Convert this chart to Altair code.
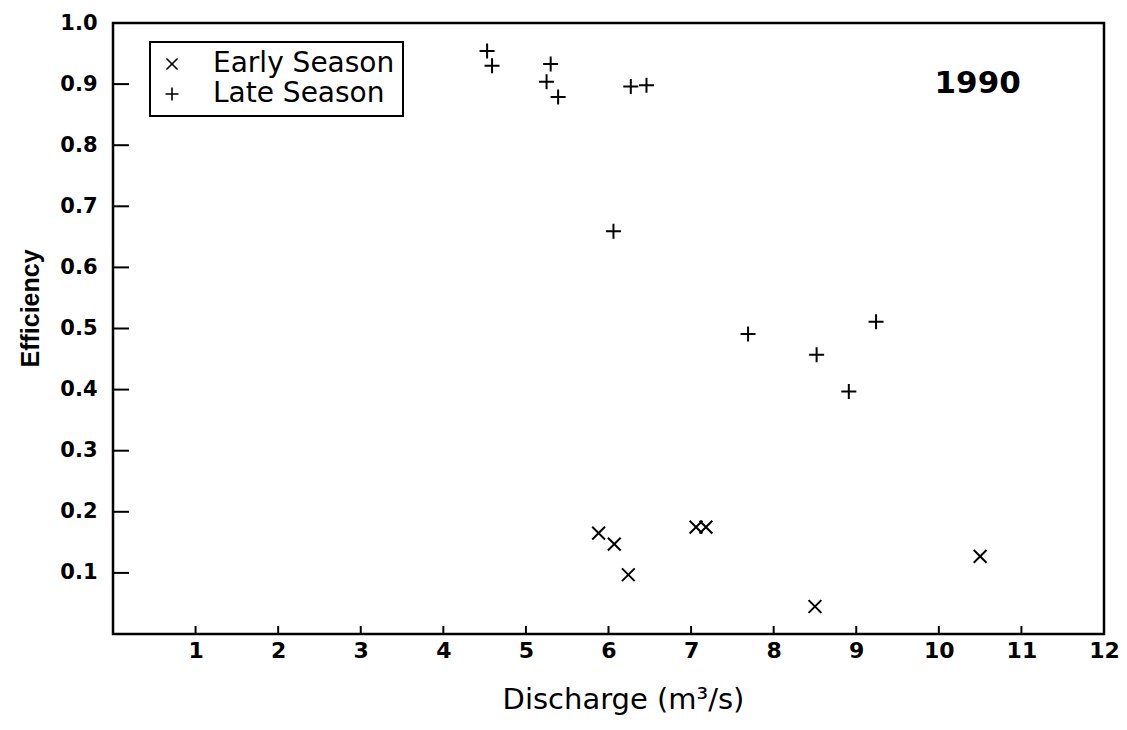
import altair as alt
import pandas as pd

# Data
early_x = [5.88, 6.07, 6.24, 7.06, 7.18, 8.50, 10.50]
early_y = [0.165, 0.147, 0.097, 0.175, 0.175, 0.045, 0.127]
late_x = [4.53, 4.59, 5.30, 5.25, 5.39, 6.27, 6.46, 6.06, 7.69, 9.24, 8.52, 8.91]
late_y = [0.954, 0.930, 0.933, 0.904, 0.879, 0.896, 0.898, 0.659, 0.491, 0.511, 0.457, 0.397]
seasons = ["Early Season", "Late Season"]
x_ticks = [1, 2, 3, 4, 5, 6, 7, 8, 9, 10, 11, 12]
y_ticks = [0.1, 0.2, 0.3, 0.4, 0.5, 0.6, 0.7, 0.8, 0.9, 1.0]
year_label = "1990"

W, H = 991, 611

pts = pd.DataFrame(
    {"x": early_x + late_x,
     "y": early_y + late_y,
     "season": [seasons[0]] * len(early_x) + [seasons[1]] * len(late_x)}
)

X_PATH = "M-0.85,-0.85L0.85,0.85M-0.85,0.85L0.85,-0.85"
PLUS_PATH = "M-1,0L1,0M0,-1L0,1"

xscale = alt.Scale(domain=[0, 12], nice=False, zero=False)
yscale = alt.Scale(domain=[0, 1.0], nice=False, zero=False)

xaxis = alt.Axis(values=x_ticks, format="d", ticks=False, domain=False, grid=False,
                 labelFont="DejaVu Sans", labelFontWeight="bold", labelFontSize=22,
                 labelColor="black", labelPadding=6, labelFlush=False,
                 title="Discharge (m³/s)", titleFont="DejaVu Sans",
                 titleFontWeight="normal", titleFontSize=29, titleColor="black",
                 titlePadding=24, titleX=510)
yaxis = alt.Axis(values=y_ticks, format=".1f", ticks=False, domain=False, grid=False,
                 labelFont="DejaVu Sans", labelFontWeight="bold", labelFontSize=21,
                 labelColor="black", labelPadding=16, labelFlush=False,
                 title="Efficiency", titleFont="Liberation Sans",
                 titleFontWeight="bold", titleFontSize=25, titleColor="black",
                 titlePadding=16, titleY=285)

points = alt.Chart(pts).mark_point(filled=False, strokeWidth=2, size=225, color="black", opacity=1).encode(
    x=alt.X("x:Q", scale=xscale, axis=xaxis),
    y=alt.Y("y:Q", scale=yscale, axis=yaxis),
    shape=alt.Shape("season:N",
                    scale=alt.Scale(domain=seasons, range=[X_PATH, PLUS_PATH]),
                    legend=alt.Legend(title=None, orient="none", legendX=37, legendY=19,
                                      strokeColor="black", fillColor="white",
                                      padding=8, labelFont="DejaVu Sans",
                                      labelFontSize=28, labelColor="black",
                                      labelOffset=27, symbolOffset=0, symbolSize=170,
                                      symbolStrokeWidth=1.6, symbolStrokeColor="black",
                                      symbolFillColor="transparent", rowPadding=2,
                                      labelLimit=400)),
)

ytick_df = pd.DataFrame({"v": y_ticks[:-1]})
xtick_df = pd.DataFrame({"v": x_ticks[:-1]})

ytick_rules = alt.Chart(ytick_df).mark_rule(color="black", strokeWidth=2).encode(
    y=alt.Y("v:Q", scale=yscale), x=alt.value(0), x2=alt.value(16)
)
xtick_rules = alt.Chart(xtick_df).mark_rule(color="black", strokeWidth=2).encode(
    x=alt.X("v:Q", scale=xscale), y=alt.value(H), y2=alt.value(H - 8)
)

label_df = pd.DataFrame({"x": [10.47], "y": [0.90], "t": [year_label]})
year_text = alt.Chart(label_df).mark_text(
    font="DejaVu Sans", fontWeight="bold", fontSize=31, color="black",
    align="center", baseline="middle"
).encode(x=alt.X("x:Q", scale=xscale), y=alt.Y("y:Q", scale=yscale), text="t:N")

chart = alt.layer(ytick_rules, xtick_rules, points, year_text).properties(
    width=W, height=H,
    autosize=alt.AutoSizeParams(type="none"),
    padding={"left": 105, "top": 15, "right": 15, "bottom": 88},
    background="white",
).configure_view(stroke="black", strokeWidth=2.5).configure_legend(strokeWidth=2)

chart.save("out.html", embed_options={"renderer": "svg", "actions": False})
